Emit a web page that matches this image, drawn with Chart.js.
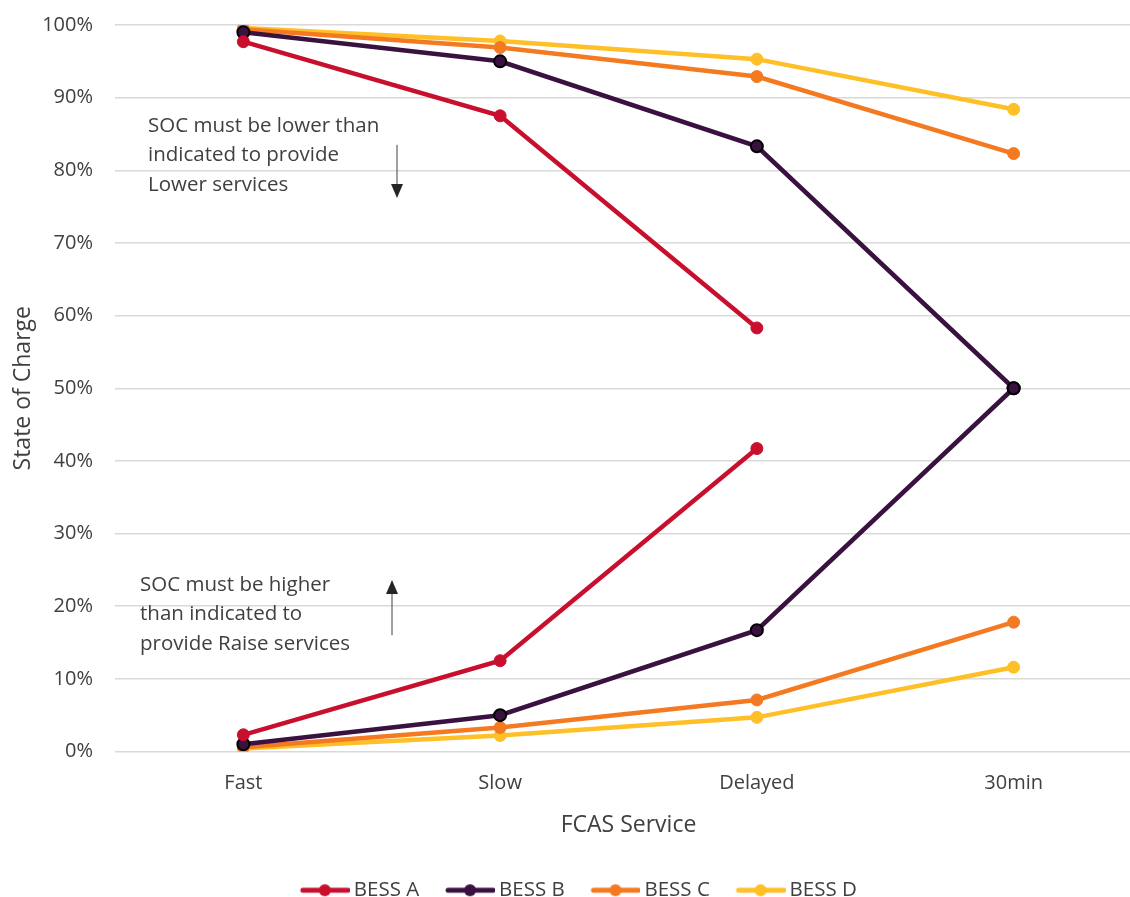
<!DOCTYPE html>
<html>
<head>
<meta charset="utf-8">
<script src="https://cdn.jsdelivr.net/npm/chart.js@4"></script>
<style>
  html, body { margin: 0; padding: 0; background: #fff; overflow: hidden; }
  #wrap { width: 1150px; height: 897px; }
</style>
</head>
<body>
<div id="wrap"><canvas id="socChart"></canvas></div>
<script>
const services = ["Fast", "Slow", "Delayed", "30min"];
const seriesNames = ["BESS A", "BESS B", "BESS C", "BESS D"];
const seriesColors = ["#C8102E", "#3A1240", "#F47A22", "#FFBF27"];

// upper limit (Lower services) and lower limit (Raise services), % SOC
const upperA = [97.7, 87.5, 58.3, null];
const lowerA = [2.3, 12.5, 41.7, null];
const upperB = [99.0, 95.0, 83.3, 50.0];
const lowerB = [1.0, 5.0, 16.7, 50.0];
const upperC = [99.4, 96.9, 92.9, 82.3];
const lowerC = [0.6, 3.3, 7.1, 17.8];
const upperD = [99.6, 97.8, 95.3, 88.4];
const lowerD = [0.4, 2.2, 4.7, 11.6];

const yTicks = [0, 10, 20, 30, 40, 50, 60, 70, 80, 90, 100];

const upper = [upperA, upperB, upperC, upperD];
const lower = [lowerA, lowerB, lowerC, lowerD];

const FONT = "'Open Sans', sans-serif";

// legend icon: line with a marker, blank margin on the left
function legendIcon(color) {
  const c = document.createElement("canvas");
  c.width = 72;
  c.height = 14;
  const g = c.getContext("2d");
  g.strokeStyle = color;
  g.lineWidth = 5;
  g.lineCap = "round";
  g.beginPath();
  g.moveTo(25, 7);
  g.lineTo(70, 7);
  g.stroke();
  g.fillStyle = color;
  g.beginPath();
  g.arc(47, 7, 6, 0, Math.PI * 2);
  g.fill();
  return c;
}

const datasets = [];
seriesNames.forEach((name, i) => {
  const border = i === 1 ? "#000000" : seriesColors[i];
  [upper[i], lower[i]].forEach((values, k) => {
    datasets.push({
      label: name,
      data: values,
      borderColor: seriesColors[i],
      backgroundColor: seriesColors[i],
      pointBackgroundColor: seriesColors[i],
      pointBorderColor: border,
      pointBorderWidth: i === 1 ? 2 : 1,
      pointRadius: 6,
      borderWidth: 4.5,
      tension: 0,
      isLegend: k === 0,
      icon: legendIcon(seriesColors[i]),
    });
  });
});

const notes = [
  { x: 148, value: 86.1, lines: ["SOC must be lower than", "indicated to provide", "Lower services"] },
  { x: 140, value: 22.9, lines: ["SOC must be higher", "than indicated to", "provide Raise services"] },
];

function arrow(ctx, x, yFrom, yTip) {
  const dir = yTip > yFrom ? 1 : -1;
  ctx.beginPath();
  ctx.moveTo(x, yFrom);
  ctx.lineTo(x, yTip - dir * 10);
  ctx.stroke();
  ctx.beginPath();
  ctx.moveTo(x - 6, yTip - dir * 14);
  ctx.lineTo(x + 6, yTip - dir * 14);
  ctx.lineTo(x, yTip);
  ctx.closePath();
  ctx.fill();
}

const notePlugin = {
  id: "notes",
  afterLayout(chart) {
    // legend sits lower and a bit left of where chart.js puts it
    chart.legend.top += 13.5;
    chart.legend.bottom += 13.5;
    chart.legend.left -= 5;
    chart.legend.right -= 5;
  },
  afterDatasetsDraw(chart) {
    const ctx = chart.ctx;
    const y = chart.scales.y;
    ctx.save();
    ctx.fillStyle = "#404040";
    ctx.font = "20.5px " + FONT;
    ctx.textBaseline = "middle";
    notes.forEach((n) => {
      const top = y.getPixelForValue(n.value);
      n.lines.forEach((t, j) => ctx.fillText(t, n.x, top + j * 29.5));
    });

    ctx.strokeStyle = "#404040";
    ctx.fillStyle = "#262626";
    ctx.lineWidth = 1;
    arrow(ctx, 397, y.getPixelForValue(83.5), y.getPixelForValue(76.2));
    arrow(ctx, 392, y.getPixelForValue(16.0), y.getPixelForValue(23.6));
    ctx.restore();
  },
};

new Chart(document.getElementById("socChart"), {
  type: "line",
  data: { labels: services, datasets: datasets },
  options: {
    responsive: true,
    maintainAspectRatio: false,
    animation: false,
    layout: { padding: { top: 25, right: 7, left: 8, bottom: 0 } },
    plugins: {
      tooltip: { enabled: false },
      legend: {
        position: "bottom",
        labels: {
          usePointStyle: true,
          pointStyleWidth: 59.5,
          padding: 10,
          color: "#404040",
          font: { family: FONT, size: 20.5 },
          filter: (item, data) => data.datasets[item.datasetIndex].isLegend,
          generateLabels(chart) {
            return chart.data.datasets.map((ds, i) => ({
              text: ds.label,
              datasetIndex: i,
              pointStyle: ds.icon,
              fontColor: "#404040",
              lineWidth: 0,
            }));
          },
        },
      },
    },
    scales: {
      x: {
        offset: true,
        grid: { display: false, drawTicks: false },
        border: { display: false },
        afterFit(scale) {
          scale.height = 105;
        },
        ticks: {
          color: "#404040",
          padding: 20,
          font: { family: FONT, size: 20 },
        },
        title: {
          display: true,
          text: "FCAS Service",
          color: "#404040",
          padding: { top: 16, bottom: 17.4 },
          font: { family: FONT, size: 23 },
        },
      },
      y: {
        min: 0,
        max: 100,
        afterBuildTicks(scale) {
          scale.ticks = yTicks.map((v) => ({ value: v }));
        },
        afterFit(scale) {
          scale.width = 107;
          scale.paddingTop = 0;
          scale.paddingBottom = 0;
        },
        grid: { color: "#D9D9D9", lineWidth: 1.5, drawTicks: false },
        border: { display: false },
        ticks: {
          color: "#404040",
          padding: 22,
          font: { family: FONT, size: 20 },
          callback: (v) => v + "%",
        },
        title: {
          display: true,
          text: "State of Charge",
          color: "#404040",
          padding: { top: 2, bottom: 4 },
          font: { family: FONT, size: 23 },
        },
      },
    },
  },
  plugins: [notePlugin],
});
</script>
</body>
</html>
